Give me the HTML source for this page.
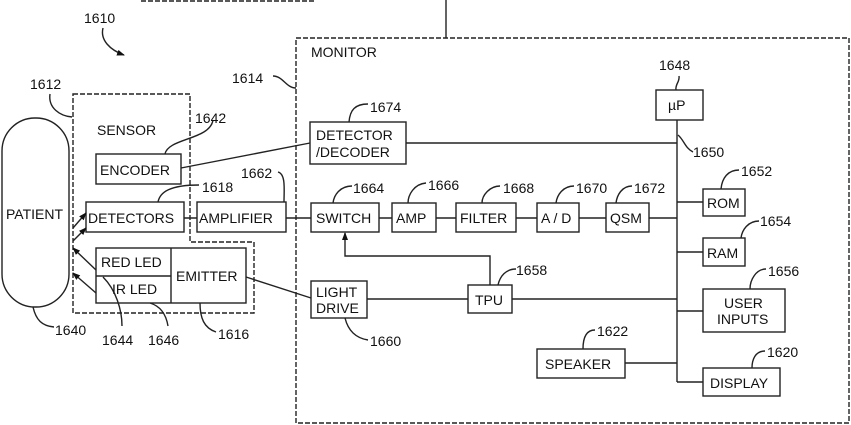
<!DOCTYPE html>
<html><head><meta charset="utf-8"><style>
html,body{margin:0;padding:0;background:#fff;width:851px;height:425px;overflow:hidden}
svg{display:block}
text{font-family:"Liberation Sans",sans-serif;font-size:14px;fill:#111}
</style></head><body>
<svg width="851" height="425" viewBox="0 0 851 425" xmlns="http://www.w3.org/2000/svg">
<defs><marker id="a" markerWidth="8" markerHeight="8" refX="7" refY="4" orient="auto" markerUnits="userSpaceOnUse"><path d="M0,1 L8,4 L0,7 z" fill="#111"/></marker></defs>
<g fill="none" stroke="#222" stroke-width="1.4">
<path d="M141,1 H315" stroke-dasharray="5,2"/>
<path d="M446,0 V38"/>
<rect x="296" y="38" width="553" height="385" stroke-dasharray="5,2"/>
<path d="M73,94 H190 V242 H254 V313 H73 Z" stroke-dasharray="5,2"/>
<rect x="96" y="154" width="85" height="30"/>
<rect x="310" y="122" width="96" height="42"/>
<rect x="86" y="202" width="98" height="30"/>
<rect x="197" y="202" width="89" height="30"/>
<rect x="311" y="203" width="68" height="29"/>
<rect x="392" y="203" width="44" height="29"/>
<rect x="456" y="203" width="60" height="29"/>
<rect x="537" y="203" width="42" height="29"/>
<rect x="606" y="203" width="43" height="29"/>
<rect x="656" y="90" width="47" height="30"/>
<rect x="703" y="189" width="42" height="27"/>
<rect x="703" y="238" width="42" height="28"/>
<rect x="703" y="289" width="82" height="43"/>
<rect x="703" y="368" width="77" height="28"/>
<rect x="537" y="349" width="88" height="29"/>
<rect x="468" y="285" width="44" height="28"/>
<rect x="311" y="281" width="56" height="37"/>
<rect x="96" y="248" width="150" height="55"/>
<path d="M171,248 V303 M96,276 H171"/>
<rect x="2" y="118" width="67" height="189" rx="33" ry="33"/>
<path d="M181,168 L310,143"/>
<path d="M406,143 H677"/>
<path d="M677,120 V382"/>
<path d="M184,218 H197 M286,218 H311 M379,218 H392 M436,218 H456 M516,218 H537 M579,218 H606 M649,218 H677"/>
<path d="M677,202 H703 M677,252 H703 M677,311 H703 M677,382 H703 M625,363 H677"/>
<path d="M367,299 H468 M512,299 H677"/>
<path d="M490,285 V256 H345 V233" marker-end="url(#a)"/>
<path d="M246,277 L311,298"/>
<path d="M73,228 L86,213" marker-end="url(#a)"/>
<path d="M73,241 L86,228" marker-end="url(#a)"/>
<path d="M96,270 L73,248" marker-end="url(#a)"/>
<path d="M96,293 L73,273" marker-end="url(#a)"/>
<path d="M103,28 C100,40 110,50 124,55" marker-end="url(#a)"/>
<path d="M273,76 C283,76 286,88 296,88"/>
<path d="M50,94 C48,108 60,116 72,117"/>
<path d="M213,120 C210,140 168,138 165,154"/>
<path d="M368,104 C355,104 350,110 349,122"/>
<path d="M199,185 C170,185 160,192 158,202"/>
<path d="M278,172 C286,174 284,190 284,202"/>
<path d="M352,186 C340,186 334,195 333,203"/>
<path d="M426,183 C414,184 408,195 408,203"/>
<path d="M500,186 C490,186 482,195 482,203"/>
<path d="M574,186 C563,186 557,195 556,203"/>
<path d="M632,186 C622,186 617,195 616,203"/>
<path d="M679,76 C680,82 675,84 676,90"/>
<path d="M678,135 C684,140 685,148 693,152"/>
<path d="M739,170 C728,170 722,178 721,189"/>
<path d="M759,221 C748,221 742,230 741,238"/>
<path d="M766,269 C756,269 750,280 750,289"/>
<path d="M765,351 C755,351 752,360 752,368"/>
<path d="M595,330 C585,330 583,340 583,349"/>
<path d="M516,269 C506,269 500,276 498,285"/>
<path d="M345,318 C348,330 355,338 368,340"/>
<path d="M33,307 C36,320 42,326 54,327"/>
<path d="M103,277 C116,290 122,310 122,326"/>
<path d="M150,303 C160,306 166,314 168,326"/>
<path d="M200,303 C200,318 204,328 216,332"/>
</g>
<g>
<text x="84" y="23" font-size="16">1610</text>
<text x="311" y="57" font-size="13">MONITOR</text>
<text x="232" y="83" font-size="16">1614</text>
<text x="30" y="89" font-size="16">1612</text>
<text x="97" y="135" font-size="13.5">SENSOR</text>
<text x="195" y="123" font-size="16">1642</text>
<text x="370" y="112" font-size="16">1674</text>
<text x="100" y="175">ENCODER</text>
<text x="316" y="140">DETECTOR</text>
<text x="316" y="157">/DECODER</text>
<text x="202" y="192" font-size="16">1618</text>
<text x="241" y="178" font-size="16">1662</text>
<text x="353" y="193" font-size="16">1664</text>
<text x="428" y="190" font-size="16">1666</text>
<text x="503" y="193" font-size="16">1668</text>
<text x="576" y="193" font-size="16">1670</text>
<text x="634" y="193" font-size="16">1672</text>
<text x="659" y="70" font-size="16">1648</text>
<text x="693" y="157" font-size="16">1650</text>
<text x="741" y="176" font-size="16">1652</text>
<text x="760" y="226" font-size="16">1654</text>
<text x="768" y="276" font-size="16">1656</text>
<text x="767" y="357" font-size="16">1620</text>
<text x="597" y="336" font-size="16">1622</text>
<text x="516" y="275" font-size="16">1658</text>
<text x="370" y="346" font-size="16">1660</text>
<text x="55" y="335" font-size="16">1640</text>
<text x="102" y="345" font-size="16">1644</text>
<text x="148" y="345" font-size="16">1646</text>
<text x="218" y="339" font-size="16">1616</text>
<text x="88" y="223">DETECTORS</text>
<text x="199" y="223">AMPLIFIER</text>
<text x="316" y="223">SWITCH</text>
<text x="396" y="223">AMP</text>
<text x="460" y="223">FILTER</text>
<text x="541" y="223">A / D</text>
<text x="610" y="223">QSM</text>
<text x="668" y="110">µP</text>
<text x="707" y="208">ROM</text>
<text x="707" y="258">RAM</text>
<text x="724" y="308">USER</text>
<text x="717" y="324">INPUTS</text>
<text x="710" y="388">DISPLAY</text>
<text x="545" y="369">SPEAKER</text>
<text x="475" y="305">TPU</text>
<text x="316" y="297">LIGHT</text>
<text x="316" y="313">DRIVE</text>
<text x="101" y="267">RED LED</text>
<text x="112" y="294">IR LED</text>
<text x="176" y="281">EMITTER</text>
<text x="6" y="219" font-size="13">PATIENT</text>
</g>
</svg>
</body></html>
